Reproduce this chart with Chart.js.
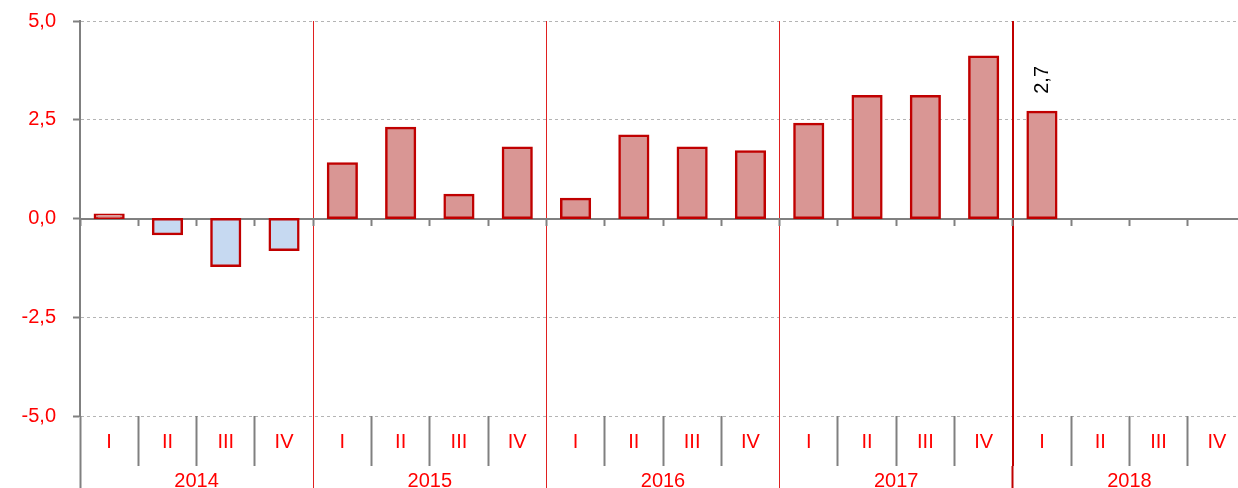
<!DOCTYPE html>
<html>
<head>
<meta charset="utf-8">
<script src="https://cdn.jsdelivr.net/npm/chart.js@4.4.1/dist/chart.umd.min.js"></script>
<style>
    html, body { margin: 0; padding: 0; background: #fff; overflow: hidden; }
    #wrap { width: 1246px; height: 488px; position: relative; }
</style>
</head>
<body>
<div id="wrap"><canvas id="gdp"></canvas></div>
<script>
// quarterly growth, %
const quarters = ['I', 'II', 'III', 'IV', 'I', 'II', 'III', 'IV', 'I', 'II', 'III', 'IV', 'I', 'II', 'III', 'IV', 'I', 'II', 'III', 'IV'];
const years = ['2014', '2015', '2016', '2017', '2018'];
const growth = [0.1, -0.4, -1.2, -0.8, 1.4, 2.3, 0.6, 1.8, 0.5, 2.1, 1.8, 1.7, 2.4, 3.1, 3.1, 4.1, 2.7, null, null, null];
const labelled = [16]; // bars with a value label
const yTicks = [-5, -2.5, 0, 2.5, 5];

const RED = '#FF0000';
const DARK_RED = '#C00000';
const LINE_RED = '#E02020';
const GRAY = '#808080';
const FONT = { family: 'Liberation Sans, Arial, sans-serif', size: 20 };

const fmt = v => v.toFixed(1).replace('.', ',');

// quarter boundary i: year separator or plain
const isYear = i => i > 0 && i < 20 && i % 4 === 0;
const sepColor = i => i === 16 ? DARK_RED : (isYear(i) ? LINE_RED : 'rgba(0,0,0,0)');

const valueLabels = {
    id: 'valueLabels',
    afterDatasetsDraw(chart) {
        const ctx = chart.ctx;
        const meta = chart.getDatasetMeta(0);
        labelled.forEach(i => {
            const bar = meta.data[i];
            ctx.save();
            ctx.translate(bar.x + 1, bar.y - 32);
            ctx.rotate(-Math.PI / 2);
            ctx.fillStyle = '#000';
            ctx.font = '20px ' + FONT.family;
            ctx.textAlign = 'center';
            ctx.textBaseline = 'middle';
            ctx.fillText(fmt(growth[i]), 0, 0);
            ctx.restore();
        });
    }
};

new Chart(document.getElementById('gdp'), {
    type: 'bar',
    data: {
        labels: quarters,
        datasets: [{
            data: growth,
            backgroundColor: growth.map(v => v < 0 ? '#C6D9F1' : '#D99694'),
            borderColor: DARK_RED,
            borderWidth: 2.5,
            borderSkipped: false,
            inflateAmount: 1,
            barPercentage: 0.5,
            categoryPercentage: 1
        }]
    },
    options: {
        responsive: true, maintainAspectRatio: false, animation: false,
        layout: { padding: 0 },
        plugins: { legend: { display: false }, tooltip: { enabled: false } },
        scales: {
            y: {
                min: -5, max: 5,
                afterBuildTicks: s => { s.ticks = yTicks.map(v => ({ value: v })); },
                afterFit: s => { s.width = 80; s.paddingTop = 21; s.paddingBottom = 0; },
                ticks: { color: RED, font: FONT, padding: 17, callback: v => fmt(v) },
                grid: {
                    color: c => c.tick && c.tick.value === 0 ? 'rgba(0,0,0,0)' : '#B4B4B4',
                    tickColor: GRAY, tickLength: 7, tickWidth: 2
                },
                border: { color: GRAY, width: 2, dash: [3, 3] }
            },
            x: {
                weight: 0,
                afterFit: s => { s.height = 50; },
                ticks: { color: RED, font: FONT, padding: -36, maxRotation: 0, autoSkip: false },
                grid: {
                    offset: true, drawOnChartArea: true, tickLength: 50,
                    color: c => sepColor(c.index),
                    lineWidth: c => c.index === 16 ? 2 : 1,
                    tickColor: c => isYear(c.index) ? sepColor(c.index) : GRAY,
                    tickWidth: c => c.index === 16 ? 2 : (isYear(c.index) ? 1 : 2)
                },
                border: { display: false }
            },
            x2: {
                type: 'category', labels: years, offset: true, weight: 1,
                afterFit: s => { s.height = 22; },
                ticks: { color: RED, font: FONT, padding: -19, maxRotation: 0 },
                grid: {
                    offset: true, drawOnChartArea: false, tickLength: 22,
                    tickColor: c => c.index === 0 ? GRAY : (c.index === 4 ? DARK_RED : LINE_RED),
                    tickWidth: c => c.index === 0 || c.index === 4 ? 2 : 1
                },
                border: { display: false }
            },
            x0: {
                type: 'category', position: { y: 0 }, offset: true, z: 1,
                ticks: { display: false },
                grid: { offset: true, drawOnChartArea: false, tickLength: 6, tickColor: GRAY, tickWidth: 2 },
                border: { color: GRAY, width: 2 }
            }
        }
    },
    plugins: [valueLabels]
});
</script>
</body>
</html>
